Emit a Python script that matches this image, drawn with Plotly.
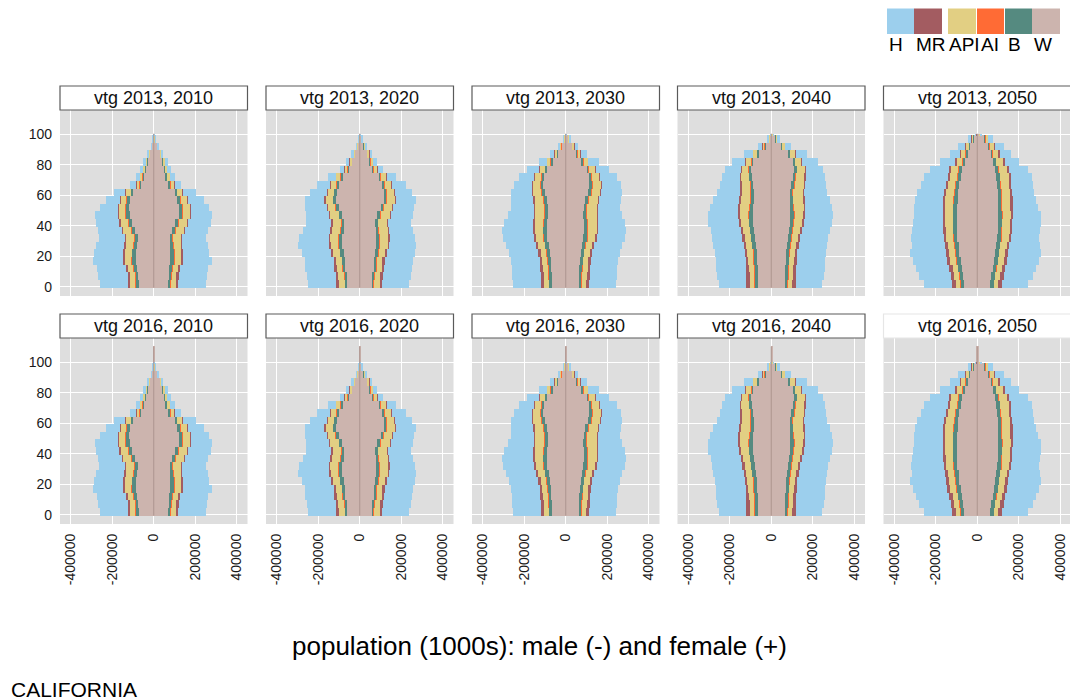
import plotly.graph_objects as go

# The page body has an 8px margin, so the figure is drawn 8px in from the window corner.
PAGE_OFF = 8
FIG_W, FIG_H = 1078 - PAGE_OFF, 700 - PAGE_OFF
FONT = "Liberation Sans, Arial, sans-serif"

# ---------------- data (persons per single year of age, in 1000s) ----------------
YEARS = [2010, 2020, 2030, 2040, 2050]
VINTAGES = [2013, 2016]
AGE_START = [0, 5, 10, 15, 20, 25, 30, 35, 40, 45, 50, 55, 60, 65, 70, 75, 80, 85, 90, 95, 100]
AGE_END = [4, 9, 14, 19, 24, 29, 34, 39, 44, 49, 54, 59, 64, 69, 74, 79, 84, 89, 94, 99, 100]
TAIL_START, TAIL_END = 101, 110           # extra open ages in vintage 2016
TAIL_W_M_2016 = [2.0, 2.5, 3.0, 3.5, 4.0]  # one value per projection year
TAIL_W_F_2016 = [3.0, 3.5, 4.0, 4.5, 5.0]

RACES = ["W", "B", "AI", "API", "MR", "H"]        # stacking order from the centre
LEGEND_ORDER = ["H", "MR", "API", "AI", "B", "W"]

# 2010
W_M_2010 = [72, 74, 79, 86, 85, 80, 78, 90, 104, 116, 118, 115, 98, 62, 50, 41, 32, 20, 9, 2.8, 1.5]
B_M_2010 = [14, 15, 17, 20, 20, 18, 16, 17, 19, 20, 19, 17, 12, 7, 5, 3.5, 2.5, 1.5, 0.6, 0.2, 0.05]
AI_M_2010 = [2, 2, 2, 2, 2, 2, 2, 2, 2, 2, 2, 2, 1.5, 1, 0.7, 0.5, 0.3, 0.2, 0.1, 0, 0]
API_M_2010 = [25, 26, 28, 32, 34, 36, 38, 40, 36, 32, 30, 27, 22, 14, 11, 8, 5.5, 3.5, 1.5, 0.5, 0.2]
MR_M_2010 = [10, 9, 8, 7, 6, 5, 4, 4, 4, 4, 4, 3, 2.5, 1.5, 1, 0.6, 0.4, 0.2, 0.1, 0, 0]
H_M_2010 = [137, 142, 141, 145, 141, 137, 124, 115, 111, 108, 86, 66, 55, 29.5, 20, 14.4, 9.3, 4.6, 1.7, 0.5, 0.3]
W_F_2010 = [69, 71, 74, 80, 80, 78, 76, 88, 104, 120, 120, 114, 100, 72, 58, 50, 44, 32, 16, 5.5, 2.5]
B_F_2010 = [13, 14, 16, 19, 19, 16, 15, 15, 16, 17, 17, 15, 12, 8, 6, 5, 3.5, 2.2, 1, 0.4, 0.1]
AI_F_2010 = [1.5, 1.5, 1.7, 2, 2, 1.8, 1.8, 1.8, 1.8, 2, 2, 1.8, 1.5, 1, 0.7, 0.5, 0.3, 0.2, 0.1, 0, 0]
API_F_2010 = [24, 25, 27, 31, 34, 37, 40, 43, 41, 39, 36, 32, 26, 18, 14, 10, 7.5, 5, 2.5, 0.9, 0.3]
MR_F_2010 = [10, 9, 8, 6.5, 5, 4, 3.5, 3, 3, 3, 2.5, 2, 1.5, 1, 0.7, 0.5, 0.3, 0.2, 0.1, 0, 0]
H_F_2010 = [132, 137, 136, 140, 128, 125, 115, 112, 108, 100, 86, 78, 62, 30, 21, 15, 11, 6.5, 3, 1, 0.3]

# 2020
W_M_2020 = [60, 62, 70, 72, 78, 84, 84, 78, 75, 86, 100, 113, 110, 100, 84, 54, 38, 24, 11, 3, 1]
B_M_2020 = [12, 12, 13, 14, 17, 19, 18, 16, 14, 14, 15, 16, 14, 12, 9, 5.5, 3.5, 2, 0.8, 0.2, 0.05]
AI_M_2020 = [1.2, 1.3, 1.4, 1.5, 1.8, 2, 2, 1.8, 1.7, 1.7, 1.7, 1.8, 1.8, 1.6, 1.3, 0.8, 0.5, 0.3, 0.1, 0, 0]
API_M_2020 = [27, 28, 27, 28, 32, 38, 40, 42, 42, 42, 39, 36, 31, 26, 20, 13, 9, 5.5, 2.5, 0.8, 0.2]
MR_M_2020 = [14, 13, 11, 9, 8, 7, 5, 4, 3.5, 3, 3, 3, 2.5, 2, 1.5, 0.8, 0.5, 0.3, 0.1, 0, 0]
H_M_2020 = [136, 139, 140, 141, 143, 145, 141, 133, 122, 111, 103, 95, 79, 63, 39, 21, 13.5, 8, 3.5, 1, 0.3]
W_F_2020 = [57, 59, 67, 69, 74, 79, 79, 76, 74, 85, 100, 115, 115, 107, 92, 62, 48, 36, 20, 7, 2.5]
B_F_2020 = [11.5, 11.5, 12.5, 13.5, 16, 18, 17, 15, 14, 14, 15, 16, 15, 13, 10, 6.5, 4.5, 3, 1.4, 0.5, 0.1]
AI_F_2020 = [1.2, 1.3, 1.4, 1.5, 1.7, 1.9, 1.9, 1.7, 1.7, 1.7, 1.7, 1.8, 1.8, 1.6, 1.3, 0.8, 0.5, 0.3, 0.1, 0, 0]
API_F_2020 = [26, 27, 26, 27, 31, 37, 41, 44, 45, 45, 42, 40, 35, 30, 24, 16, 12, 8, 4.5, 1.6, 0.5]
MR_F_2020 = [13.5, 12.5, 10.5, 8.5, 7.5, 6.5, 5, 4, 3.5, 3, 3, 3, 2.5, 2, 1.5, 0.8, 0.5, 0.3, 0.1, 0, 0]
H_F_2020 = [130, 133, 134, 135, 134, 130, 122, 116, 110, 106, 100, 95, 81, 67, 44, 25, 17, 11, 5.5, 2, 0.6]

# 2030
W_M_2030 = [66, 67, 69, 71, 75, 82, 88, 90, 88, 85, 86, 92, 102, 108, 104, 90, 66, 40, 21, 7, 1.7]
B_M_2030 = [15, 15, 16, 16, 17, 18, 20, 20, 19, 17, 15, 15, 16, 15, 13, 10, 6.5, 3.5, 1.7, 0.5, 0.1]
AI_M_2030 = [1.2, 1.2, 1.3, 1.3, 1.4, 1.5, 1.6, 1.7, 1.7, 1.6, 1.6, 1.6, 1.6, 1.6, 1.5, 1.3, 0.9, 0.5, 0.2, 0, 0]
API_M_2030 = [22, 23, 24, 26, 29, 32, 36, 40, 44, 46, 46, 44, 40, 35, 30, 24, 17, 10, 5.5, 1.8, 0.5]
MR_M_2030 = [16, 15, 13, 11, 9, 8, 7, 6, 5, 4, 4, 3.5, 3, 3, 2.5, 2, 1.3, 0.7, 0.3, 0.1, 0]
H_M_2030 = [135, 137, 137, 140, 144, 144, 147, 147, 137, 126, 112, 106, 99, 87, 74, 58, 38, 20, 9.3, 2.6, 0.7]
W_F_2030 = [63, 64, 66, 68, 72, 79, 85, 88, 86, 84, 86, 94, 106, 114, 112, 100, 78, 52, 31, 12, 3.3]
B_F_2030 = [14, 14, 15, 15, 16, 17, 19, 19, 18, 17, 15, 16, 17, 16, 14, 11.5, 8, 5, 2.7, 1, 0.2]
AI_F_2030 = [1.2, 1.2, 1.3, 1.3, 1.4, 1.5, 1.6, 1.7, 1.7, 1.6, 1.6, 1.6, 1.6, 1.6, 1.5, 1.3, 0.9, 0.5, 0.3, 0.1, 0]
API_F_2030 = [21, 22, 23, 25, 28, 32, 37, 42, 46, 49, 49, 47, 44, 40, 35, 29, 21, 13, 8, 3, 0.8]
MR_F_2030 = [15, 14, 12, 10.5, 8.5, 7.5, 6.5, 5.5, 4.5, 4, 4, 3.5, 3, 3, 2.5, 2, 1.3, 0.8, 0.4, 0.1, 0]
H_F_2030 = [129, 131, 131, 133, 137, 135, 136, 134, 127, 116, 106, 103, 98, 89, 80, 66, 49, 29, 15.6, 5.8, 1.7]

# 2040
W_M_2040 = [65, 67, 68, 70, 73, 77, 82, 86, 90, 92, 90, 87, 86, 90, 96, 100, 88, 64, 32, 11, 2.6]
B_M_2040 = [17, 17, 17, 17, 17, 18, 18, 19, 20, 20, 19, 17, 15, 14, 14, 13, 10, 7, 3, 1, 0.2]
AI_M_2040 = [1.1, 1.1, 1.2, 1.2, 1.3, 1.3, 1.4, 1.5, 1.6, 1.7, 1.7, 1.6, 1.6, 1.5, 1.5, 1.4, 1.1, 0.8, 0.4, 0.1, 0]
API_M_2040 = [20, 21, 22, 24, 26, 28, 31, 34, 38, 42, 45, 46, 45, 42, 38, 32, 26, 19, 10, 3.5, 0.9]
MR_M_2040 = [19, 18, 16, 14, 12, 10, 9, 8, 7, 6, 5, 4, 4, 3.5, 3, 2.5, 2, 1.3, 0.6, 0.2, 0]
H_M_2040 = [133, 141, 144, 144, 146, 146, 144, 142, 148, 146, 137, 127, 113, 99, 88, 76, 63, 43, 19, 6.2, 1.3]
W_F_2040 = [62, 64, 65, 67, 70, 74, 79, 83, 87, 89, 88, 86, 87, 93, 101, 108, 100, 80, 46, 19, 5]
B_F_2040 = [16, 16, 16, 16, 16, 17, 17, 18, 19, 19, 18, 17, 15, 15, 15, 14, 12, 9, 4.5, 1.8, 0.4]
AI_F_2040 = [1.1, 1.1, 1.2, 1.2, 1.3, 1.3, 1.4, 1.5, 1.6, 1.7, 1.7, 1.6, 1.6, 1.5, 1.5, 1.4, 1.1, 0.8, 0.4, 0.1, 0]
API_F_2040 = [19, 20, 21, 23, 25, 28, 31, 35, 40, 44, 48, 49, 49, 46, 42, 37, 31, 24, 14, 6, 1.6]
MR_F_2040 = [18, 17, 15, 13, 11, 9.5, 8.5, 7.5, 6.5, 5.5, 4.5, 4, 3.5, 3, 3, 2.5, 2, 1.5, 0.8, 0.3, 0]
H_F_2040 = [127, 134, 137, 138, 140, 138, 136, 133, 138, 137, 130, 122, 112, 102, 93, 82, 74, 55, 29, 11, 3]

# 2050
W_M_2050 = [65, 70, 75, 82, 88, 92, 98, 99, 99, 99, 99, 97, 95, 88, 82, 77, 62, 50, 38, 20, 5.5]
B_M_2050 = [19, 19, 20, 21, 21, 21, 21, 21, 21, 21, 21, 20, 19, 18, 17, 16, 12, 9, 6, 3, 0.7]
AI_M_2050 = [1, 1, 1.2, 1.2, 1.3, 1.3, 1.3, 1.3, 1.3, 1.3, 1.3, 1.3, 1.3, 1.2, 1.2, 1.1, 0.9, 0.7, 0.5, 0.2, 0]
API_M_2050 = [18, 22, 25, 28, 30, 31, 32, 33, 35, 36, 37, 38, 38, 37, 36, 35, 29, 22, 15, 8, 2]
MR_M_2050 = [21, 19, 17, 15, 13, 12, 11, 11, 11, 11, 11, 10, 10, 9, 8, 8, 6, 4, 3, 1.5, 0.3]
H_M_2050 = [136, 151, 157, 165, 172, 161, 157, 149, 143, 139, 135, 134, 131, 119, 116, 95, 70, 50, 33, 15, 3.5]
W_F_2050 = [61, 66, 71, 78, 83, 88, 94, 96, 97, 98, 97, 96, 95, 92, 90, 85, 74, 62, 50, 32, 9]
B_F_2050 = [18, 18, 19, 20, 20, 20, 20, 20, 20, 20, 19, 19, 19, 18, 18, 17, 14, 11, 8, 5, 1.2]
AI_F_2050 = [1, 1, 1.1, 1.2, 1.2, 1.2, 1.2, 1.2, 1.2, 1.2, 1.2, 1.2, 1.2, 1.2, 1.2, 1.1, 0.9, 0.8, 0.6, 0.3, 0]
API_F_2050 = [17, 21, 24, 27, 29, 31, 34, 36, 38, 40, 41, 42, 42, 42, 42, 41, 35, 28, 21, 12, 3.5]
MR_F_2050 = [20, 18, 16, 14, 12, 11, 10, 10, 10, 10, 9, 9, 9, 8, 8, 8, 6, 5, 4, 2, 0.5]
H_F_2050 = [125, 141, 149, 155, 159, 147, 137, 135, 136, 134, 123, 113, 106, 105, 103, 90, 70, 53, 41, 24, 5.8]

X_TICKS = [-400000, -200000, 0, 200000, 400000]
X_TICK_LABELS = ["-400000", "-200000", "0", "200000", "400000"]
Y_TICKS = [0, 20, 40, 60, 80, 100]
Y_TICK_LABELS = ["0", "20", "40", "60", "80", "100"]

TITLE = "population (1000s): male (-) and female (+)"
CAPTION = "CALIFORNIA"

# ---------------- styles (positions in window pixels) ----------------
COLORS = {"H": "#9ccfed", "MR": "#a35c61", "API": "#e2cf83", "AI": "#ff6b35",
          "B": "#558a80", "W": "#ccb4ae"}
PANEL_BG = "#dedede"
COL_X = [(60, 247.5), (266, 453.5), (472, 659.5), (677.5, 865), (883.5, 1071)]
ROW_Y = [(110, 296), (338, 524)]
STRIP_Y = [(86, 110), (314, 338)]


def px(x):
    return (x - PAGE_OFF) / FIG_W


def py(y):
    return 1 - (y - PAGE_OFF) / FIG_H


_g = globals()
DATA = {}
for yr in YEARS:
    for sex in ("M", "F"):
        DATA[(yr, sex)] = {r: _g[f"{r}_{sex}_{yr}"] for r in RACES}

fig = go.Figure()
layout = {}
shapes = []
annotations = []

for r, vtg in enumerate(VINTAGES):
    for c, yr in enumerate(YEARS):
        k = r * 5 + c + 1
        xa = "x" if k == 1 else f"x{k}"
        ya = "y" if k == 1 else f"y{k}"
        starts = list(AGE_START)
        ends = list(AGE_END)
        if vtg == 2016:
            starts.append(TAIL_START)
            ends.append(TAIL_END)
        ys = [(s + e) / 2 for s, e in zip(starts, ends)]
        ws = [e - s + 1 for s, e in zip(starts, ends)]
        for race in RACES:
            for sex, sign in (("M", -1), ("F", 1)):
                vals = list(DATA[(yr, sex)][race])
                if vtg == 2016:
                    if race == "W":
                        tail = TAIL_W_M_2016 if sex == "M" else TAIL_W_F_2016
                        vals.append(tail[c])
                    else:
                        vals.append(0)
                fig.add_trace(go.Bar(
                    x=[sign * v * 1000 for v in vals], y=ys, width=ws,
                    orientation="h", xaxis=xa, yaxis=ya,
                    marker=dict(color=COLORS[race], line=dict(width=0)),
                    showlegend=False, hoverinfo="skip"))
        # thin centre line along the data extent (boundary between male / female bars)
        fig.add_trace(go.Scatter(
            x=[0, 0], y=[starts[0] - 0.5, ends[-1] + 0.5], mode="lines",
            line=dict(color="#ad958f", width=1), xaxis=xa, yaxis=ya,
            showlegend=False, hoverinfo="skip"))

        x0, x1 = COL_X[c]
        y0, y1 = ROW_Y[r]
        layout["xaxis" if k == 1 else f"xaxis{k}"] = dict(
            domain=[px(x0), px(x1)], anchor=ya, range=[-451000, 451000],
            tickmode="array", tickvals=X_TICKS, ticktext=X_TICK_LABELS,
            showticklabels=(r == 1), tickangle=-90, ticks="", ticklabelstandoff=6,
            tickfont=dict(family=FONT, size=14, color="#1a1a1a"),
            showgrid=True, gridcolor="white", gridwidth=1,
            zeroline=False, showline=False, fixedrange=True)
        layout["yaxis" if k == 1 else f"yaxis{k}"] = dict(
            domain=[py(y1), py(y0)], anchor=xa, range=[-6.05, 116.05],
            tickmode="array", tickvals=Y_TICKS, ticktext=Y_TICK_LABELS,
            showticklabels=(c == 0), ticks="", ticklabelstandoff=7,
            tickfont=dict(family=FONT, size=14, color="#1a1a1a"),
            showgrid=True, gridcolor="white", gridwidth=1,
            zeroline=False, showline=False, fixedrange=True)

        # strip
        sy0, sy1 = STRIP_Y[r]
        last = (r == 1 and c == 4)
        shapes.append(dict(type="rect", xref="paper", yref="paper",
                           x0=px(x0), x1=px(x1), y0=py(sy1), y1=py(sy0),
                           fillcolor="white",
                           line=dict(color="#e6e6e6" if last else "#5a5a5a", width=1.2)))
        annotations.append(dict(text=f"vtg {vtg}, {yr}", xref="paper", yref="paper",
                                x=px((x0 + x1) / 2), y=py((sy0 + sy1) / 2),
                                xanchor="center", yanchor="middle", showarrow=False,
                                font=dict(family=FONT, size=18, color="#111")))

# legend (swatches above labels)
SW_X = [(887, 914), (914, 942), (948, 976), (977, 1004), (1005, 1032), (1032, 1060)]
LABEL_X = [887, 914, 947, 979, 1006, 1032]
for (sx0, sx1), lx, race in zip(SW_X, LABEL_X, LEGEND_ORDER):
    shapes.append(dict(type="rect", xref="paper", yref="paper",
                       x0=px(sx0), x1=px(sx1), y0=py(34), y1=py(8.5),
                       fillcolor=COLORS[race], line=dict(width=0)))
    annotations.append(dict(text=race, xref="paper", yref="paper",
                            x=px(lx), y=py(45), xanchor="left", yanchor="middle",
                            showarrow=False, font=dict(family=FONT, size=19, color="#000")))

annotations.append(dict(text=TITLE, xref="paper", yref="paper", x=px(539), y=py(646),
                        xanchor="center", yanchor="middle", showarrow=False,
                        font=dict(family=FONT, size=26, color="#000")))
annotations.append(dict(text=CAPTION, xref="paper", yref="paper", x=px(8.5), y=py(689),
                        xanchor="left", yanchor="middle", showarrow=False,
                        font=dict(family=FONT, size=21, color="#000")))

fig.update_layout(
    width=FIG_W, height=FIG_H, autosize=False,
    margin=dict(l=0, r=0, t=0, b=0),
    paper_bgcolor="white", plot_bgcolor=PANEL_BG,
    barmode="relative", bargap=0,
    shapes=shapes, annotations=annotations,
    font=dict(family=FONT),
    **layout)

fig.write_html("out.html")
